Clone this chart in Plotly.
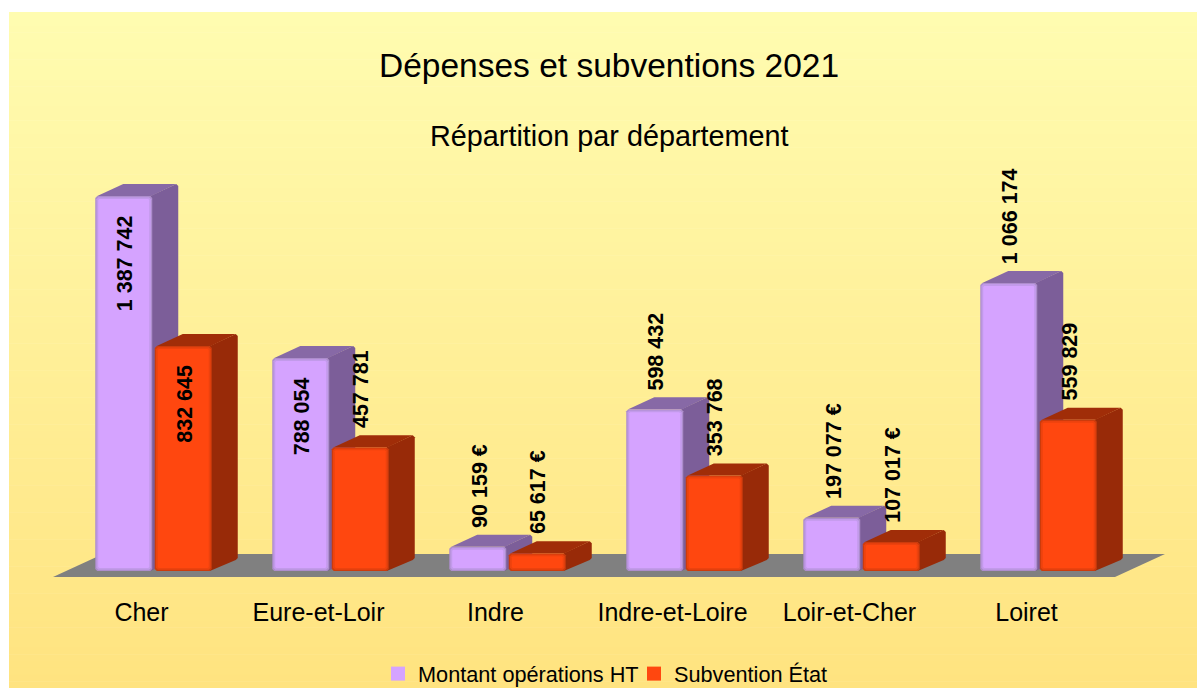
import plotly.graph_objects as go

categories = ["Cher", "Eure-et-Loir", "Indre", "Indre-et-Loire", "Loir-et-Cher", "Loiret"]
montant = [1387742, 788054, 90159, 598432, 197077, 1066174]
subvention = [832645, 457781, 65617, 353768, 107017, 559829]
montant_labels = ["1 387 742", "788 054", "90 159 €", "598 432", "197 077 €", "1 066 174"]
subvention_labels = ["832 645", "457 781", "65 617 €", "353 768", "107 017 €", "559 829"]
montant_inside = [True, True, False, False, False, False]
subvention_inside = [True, False, False, False, False, False]

W, H = 1197, 688
LEFT, TOP, BOTTOM = 9, 150, 577      # plot area in pixels
PX = 177.0                           # pixels per category
PY = 375.0 / 1387742                 # pixels per euro
BASE = 571                           # pixel row of value 0
CAT0 = 141.5                         # pixel column of category 0


def ux(p):
    return p / PX


def uy(p):
    return p / PY


def paper_x(p):
    return (p - LEFT) / (W - LEFT)


def paper_y(p):
    return (BOTTOM - p) / (BOTTOM - TOP)


x_range = [(LEFT - CAT0) / PX, (W - CAT0) / PX]
y_range = [(BASE - BOTTOM) / PY, (BASE - TOP) / PY]

BAR_W = 57
GROUP_SHIFT = 12
GAP = 2.5
DX, DY = 26, 12
FLOOR_DX, FLOOR_DY = 50, 23

fig = go.Figure()


def poly(xs, ys, color):
    fig.add_trace(go.Scatter(
        x=xs + xs[:1], y=ys + ys[:1], mode="lines", fill="toself", fillcolor=color,
        line=dict(color=color, width=0), showlegend=False, hoverinfo="skip"))


def rect(x0, x1, y0, y1, inset, cham):
    xl, xr = x0 + ux(inset), x1 - ux(inset)
    yb, yt = y0 + uy(inset), y1 - uy(inset)
    cx, cy = ux(cham), uy(cham)
    return ([xl + cx, xr - cx, xr, xr, xr - cx, xl + cx, xl, xl],
            [yb, yb, yb + cy, yt - cy, yt, yt, yt - cy, yb + cy])


# Floor
fy = (BASE - BOTTOM) / PY
poly([-0.5, 5.5, 5.5 + ux(FLOOR_DX), -0.5 + ux(FLOOR_DX)],
     [fy, fy, fy + uy(FLOOR_DY), fy + uy(FLOOR_DY)], "#808080")

styles = [
    dict(front="#D5A3FF", edge="#AD8DCC", mid="#C29AEA", side="#7C5E99", top="#8769A6"),
    dict(front="#FF470F", edge="#CC3B0C", mid="#EC420E", side="#982A08", top="#A02D08"),
]


def bar(i, series, offset, st):
    v = series[i]
    x0 = i + ux(GROUP_SHIFT + offset)
    x1 = x0 + ux(BAR_W)
    ddx, ddy = ux(DX), uy(DY)
    poly([x1 - ux(2), x1 + ddx - ux(2), x1 + ddx, x1 + ddx, x1 + ddx - ux(2), x1 - ux(2)],
         [0, ddy - uy(1), ddy + uy(1), v + ddy - uy(2), v + ddy, v], st["side"])
    poly([x0 + ux(2), x0 + ddx + ux(2), x1 + ddx - ux(2), x1 - ux(1)],
         [v, v + ddy, v + ddy, v], st["top"])
    for inset, cham, c in [(0, 2, st["edge"]), (1.2, 2, st["mid"]), (3, 1, st["front"])]:
        xs, ys = rect(x0, x1, 0, v, inset, cham)
        poly(xs, ys, c)


for i in range(len(categories)):
    bar(i, montant, -BAR_W - GAP / 2, styles[0])
    bar(i, subvention, GAP / 2, styles[1])

# Legend entries
for name, c, lg in [("Montant opérations HT", "#D5A3FF", "legend"), ("Subvention État", "#FF470F", "legend2")]:
    fig.add_trace(go.Scatter(x=[None], y=[None], mode="markers", name=name, legend=lg,
                             marker=dict(symbol="square", size=14, color=c, line=dict(width=0))))

annotations = []


def value_labels(series, labels, inside, offset):
    for i, v in enumerate(series):
        xc = i + ux(GROUP_SHIFT + offset)
        annotations.append(dict(
            x=xc, y=v, xref="x", yref="y", text=labels[i], textangle=-90, showarrow=False,
            font=dict(family="Liberation Sans", size=21.5, color="black", weight="bold"),
            xanchor="center", yanchor="top" if inside[i] else "bottom",
            yshift=-17 if inside[i] else 17))


value_labels(montant, montant_labels, montant_inside, -BAR_W / 2 - GAP / 2 + 1.5)
value_labels(subvention, subvention_labels, subvention_inside, BAR_W / 2 + GAP / 2 + 1.5)

annotations.append(dict(x=paper_x(609), y=paper_y(65), xref="paper", yref="paper",
                        text="Dépenses et subventions 2021", showarrow=False,
                        font=dict(family="Liberation Sans", size=33.5, color="black"),
                        xanchor="center", yanchor="middle"))
annotations.append(dict(x=paper_x(609), y=paper_y(136), xref="paper", yref="paper",
                        text="Répartition par département", showarrow=False,
                        font=dict(family="Liberation Sans", size=28.8, color="black"),
                        xanchor="center", yanchor="middle"))

# Background gradient
shapes = []
BANDS = 100
top_c, bot_c = (255, 252, 176), (255, 227, 128)
y_top, y_bot = 12, H
for b in range(BANDS):
    t = b / (BANDS - 1)
    c = tuple(round(a + (d - a) * t) for a, d in zip(top_c, bot_c))
    p0 = y_top + (y_bot - y_top) * b / BANDS
    p1 = y_top + (y_bot - y_top) * (b + 1) / BANDS + 0.5
    shapes.append(dict(type="rect", xref="paper", yref="paper", x0=0, x1=1,
                       y0=paper_y(p1), y1=paper_y(p0), fillcolor=f"rgb{c}",
                       line=dict(width=0), layer="below"))

legend_common = dict(orientation="h", xanchor="left", yanchor="middle", y=paper_y(674),
                     font=dict(size=21.7, family="Liberation Sans"), bgcolor="rgba(0,0,0,0)",
                     itemwidth=30)

fig.update_layout(
    width=W, height=H, autosize=False,
    margin=dict(l=LEFT, r=0, t=TOP, b=H - BOTTOM, pad=0, autoexpand=False),
    paper_bgcolor="white", plot_bgcolor="rgba(0,0,0,0)",
    font=dict(family="Liberation Sans", color="black"),
    shapes=shapes, annotations=annotations,
    showlegend=True,
    legend=dict(x=paper_x(378), **legend_common),
    legend2=dict(x=paper_x(634), **legend_common),
    xaxis=dict(range=x_range, tickmode="array", tickvals=list(range(len(categories))),
               ticktext=categories, showgrid=False, zeroline=False, showline=False,
               ticks="", tickfont=dict(size=25, family="Liberation Sans", color="black"),
               ticklabelstandoff=18, fixedrange=True),
    yaxis=dict(range=y_range, visible=False, showgrid=False, zeroline=False, fixedrange=True),
)

fig.write_html("out.html", config={"displayModeBar": False},
               post_script="document.body.style.margin='0';document.body.style.overflow='hidden';")
